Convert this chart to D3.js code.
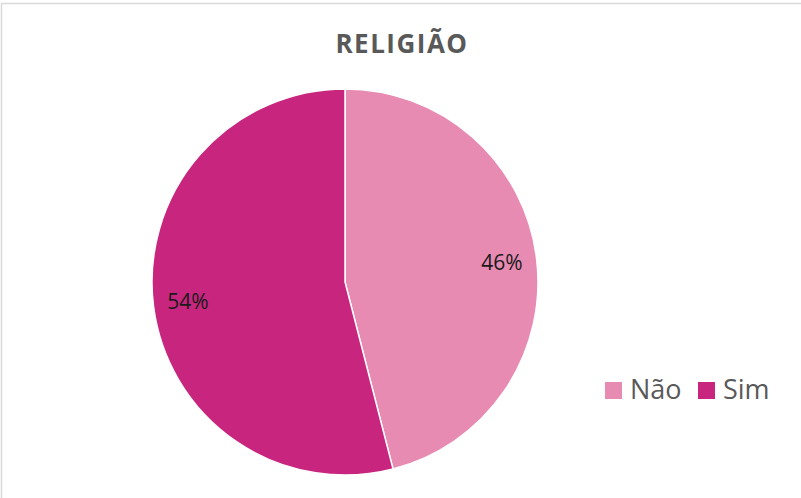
<!DOCTYPE html>
<html><head><meta charset="utf-8">
<script src="https://cdn.jsdelivr.net/npm/d3@7"></script>
<style>html,body{margin:0;padding:0;background:#fff;}svg{display:block;}</style>
</head><body>
<script>
const categories = ["Não", "Sim"];
const values = [46, 54];
const colors = ["#E88BB3", "#C8267E"];
const title = "RELIGIÃO";

const W = 801, H = 498;
const svg = d3.select("body").append("svg").attr("width", W).attr("height", H);
svg.append("rect").attr("x", 1.5).attr("y", 3.5).attr("width", W + 10).attr("height", H + 10)
  .attr("fill", "#fff").attr("stroke", "#d9d9d9").attr("stroke-width", 1.5);

svg.append("text").attr("x", 402).attr("y", 53).attr("text-anchor", "middle")
  .attr("font-family", "'Open Sans', sans-serif").attr("font-weight", "bold")
  .attr("font-size", 26).attr("fill", "#595959").attr("letter-spacing", 1.5).text(title);

const cx = 345, cy = 282, r = 193;
const pie = d3.pie().sort(null).value(d => d)(values);
const arc = d3.arc().innerRadius(0).outerRadius(r);
const labelArc = d3.arc().innerRadius(r * 0.82).outerRadius(r * 0.82);
const g = svg.append("g").attr("transform", `translate(${cx},${cy})`);
g.selectAll("path").data(pie).join("path")
  .attr("d", arc).attr("fill", (d, i) => colors[i])
  .attr("stroke", "#fff").attr("stroke-width", 1.5);
g.selectAll("text").data(pie).join("text")
  .attr("transform", d => `translate(${labelArc.centroid(d)})`)
  .attr("text-anchor", "middle").attr("dy", "0.35em")
  .attr("font-family", "'Open Sans', sans-serif").attr("font-size", 21).attr("fill", "#1a1a1a")
  .text(d => d.data + "%");

const legend = svg.append("g");
const lx = [605, 698];
categories.forEach((c, i) => {
  legend.append("rect").attr("x", lx[i]).attr("y", 382).attr("width", 17).attr("height", 17).attr("fill", colors[i]);
  legend.append("text").attr("x", lx[i] + 25).attr("y", 399)
    .attr("font-family", "'Open Sans', sans-serif").attr("font-size", 27).attr("fill", "#595959").text(c);
});
</script>
</body></html>
